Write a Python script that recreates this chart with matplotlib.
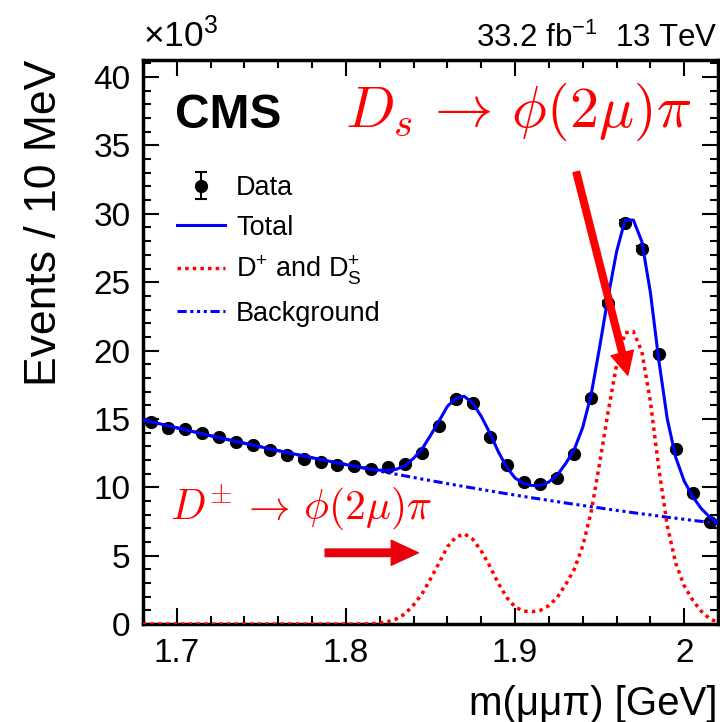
import numpy as np
import matplotlib
matplotlib.use("Agg")
import matplotlib.pyplot as plt
from matplotlib.ticker import MultipleLocator, FuncFormatter
from matplotlib.patches import FancyArrowPatch

plt.rcParams['font.family'] = ['Liberation Sans', 'DejaVu Sans']
plt.rcParams['mathtext.fontset'] = 'custom'
plt.rcParams['mathtext.rm'] = 'Liberation Sans'
plt.rcParams['mathtext.it'] = 'Liberation Sans:italic'
plt.rcParams['mathtext.bf'] = 'Liberation Sans:bold'

# events per 10 MeV bin (x10^3), bin centres in GeV
bin_centres = np.arange(1.685, 2.02, 0.01)
events = [14.79, 14.35, 14.25, 14.00, 13.65, 13.33, 13.08, 12.72, 12.35, 12.06,
          11.87, 11.60, 11.55, 11.35, 11.45, 11.70, 12.50, 14.47, 16.43, 16.13,
          13.65, 11.62, 10.36, 10.21, 10.70, 12.43, 16.50, 23.45, 29.35, 27.46,
          19.74, 12.77, 9.60, 7.48]
events_err = np.sqrt(np.array(events) * 1e3) / 1e3

# fit components sampled every 5 MeV from 1.68 to 2.02 GeV
fit_x = np.linspace(1.68, 2.02, 69)
signal = [0, 0, 0, 0, 0, 0, 0, 0, 0, 0,
          0, 0, 0, 0, 0, 0, 0, 0, 0, 0,
          0, 0, 0, 0, 0, 0, 0.01, 0.02, 0.07, 0.18,
          0.38, 0.75, 1.4, 2.2, 3.3, 4.45, 5.65, 6.35, 6.6, 6.2,
          5.35, 4.25, 3.0, 1.95, 1.25, 0.95, 0.9, 1.0, 1.35, 1.95,
          2.9, 4.0, 5.7, 8.2, 11.75, 15.5, 18.9, 21.3, 21.4, 19.9,
          16.3, 11.4, 7.2, 4.45, 2.8, 1.75, 0.95, 0.4, 0.1]
background = [14.94, 14.79, 14.64, 14.49, 14.35, 14.20, 14.06, 13.92, 13.77, 13.63,
              13.49, 13.36, 13.22, 13.08, 12.95, 12.81, 12.68, 12.55, 12.42, 12.29,
              12.16, 12.04, 11.91, 11.79, 11.66, 11.54, 11.42, 11.30, 11.18, 11.06,
              10.95, 10.83, 10.72, 10.60, 10.49, 10.38, 10.27, 10.16, 10.05, 9.95,
              9.84, 9.74, 9.63, 9.53, 9.43, 9.33, 9.23, 9.14, 9.04, 8.95,
              8.85, 8.76, 8.67, 8.58, 8.49, 8.40, 8.31, 8.23, 8.14, 8.06,
              7.98, 7.90, 7.81, 7.74, 7.66, 7.58, 7.51, 7.43, 7.36]
total = np.array(signal) + np.array(background)

fig = plt.figure(figsize=(7.2, 7.22), dpi=100)
ax = fig.add_axes([0.1986, 0.1357, 0.7986, 0.7812])

h_data = ax.errorbar(bin_centres, events, yerr=events_err, fmt='o', color='black', ms=8.5,
                     capsize=4, elinewidth=1.5, capthick=1.5, label='Data', zorder=2)
h_tot, = ax.plot(fit_x, total, color='#0000ff', lw=2.2, label='Total', zorder=3)
h_sig, = ax.plot(fit_x, signal, color='#ff0000', lw=2.5, ls=(0, (1, 1.2)),
                 label=r'D$^{+}$ and D$_{\rm S}^{+}$', zorder=4)
h_bkg, = ax.plot(fit_x, background, color='#0000ff', lw=2.2,
                 ls=(0, (3, 1.2, 1, 1.2, 1, 1.2, 1, 1.2)), label='Background', zorder=3)

ax.set_xlim(1.68, 2.02)
ax.set_ylim(0, 41.25)
ax.xaxis.set_major_locator(MultipleLocator(0.1))
ax.xaxis.set_minor_locator(MultipleLocator(0.02))
ax.yaxis.set_major_locator(MultipleLocator(5))
ax.yaxis.set_minor_locator(MultipleLocator(1))
ax.xaxis.set_major_formatter(FuncFormatter(lambda v, p: '%g' % round(v, 3)))
ax.yaxis.set_major_formatter(FuncFormatter(lambda v, p: '%d' % round(v)))
ax.tick_params(which='both', direction='in', top=True, right=True, width=1.5)
ax.tick_params(which='major', length=11.5)
ax.tick_params(which='minor', length=6)
ax.tick_params(axis='y', labelsize=24, pad=9)
ax.tick_params(axis='x', labelsize=24, pad=10)
for s in ax.spines.values():
    s.set_linewidth(2.5)

ax.set_ylabel('Events / 10 MeV', fontsize=32, loc='top')
ax.yaxis.set_label_coords(-0.135, 1.0)
ax.set_xlabel('m(μμπ) [GeV]', fontsize=29, loc='right')
ax.xaxis.set_label_coords(1.0, -0.108)

ax.legend([h_data, h_tot, h_sig, h_bkg],
          ['Data', 'Total', r'D$^{+}$ and D$_{\rm S}^{+}$', 'Background'],
          loc='upper left', bbox_to_anchor=(0.0585, 0.796), frameon=False,
          fontsize=19.5, handlelength=1.8, handletextpad=0.4,
          labelspacing=0.5, borderpad=0, borderaxespad=0)

ax.text(0.0557, 0.879, 'CMS', transform=ax.transAxes, fontsize=34.5,
        fontweight='bold', va='baseline')
ax.text(0.351, 0.881, r'$D_s\,\rightarrow\,\phi(2\mu)\pi$', transform=ax.transAxes,
        fontsize=42, color='#ff0000', va='baseline', math_fontfamily='cm')
ax.text(0.047, 0.184, r'$D^{\pm}\,\rightarrow\,\phi(2\mu)\pi$', transform=ax.transAxes,
        fontsize=30, color='#ff0000', va='baseline', math_fontfamily='cm')

fig.text(0.1986, 0.935, r'$\times$10$^{3}$', fontsize=25.5, va='baseline')
fig.text(0.997, 0.935, r'33.2 fb$^{-1}$  13 TeV', fontsize=22.5, va='baseline', ha='right')

ax.add_patch(FancyArrowPatch((1.9362, 33.06), (1.9667, 18.2),
                             arrowstyle='simple,head_length=16.5,head_width=16.5,tail_width=4.8',
                             color='#ff0000', mutation_scale=1, shrinkA=0, shrinkB=0, zorder=5))
ax.add_patch(FancyArrowPatch((1.7877, 5.21), (1.8428, 5.21),
                             arrowstyle='simple,head_length=19.5,head_width=18,tail_width=5.4',
                             color='#e8000a', mutation_scale=1, shrinkA=0, shrinkB=0, zorder=5))

fig.savefig('out.png', dpi=100)
